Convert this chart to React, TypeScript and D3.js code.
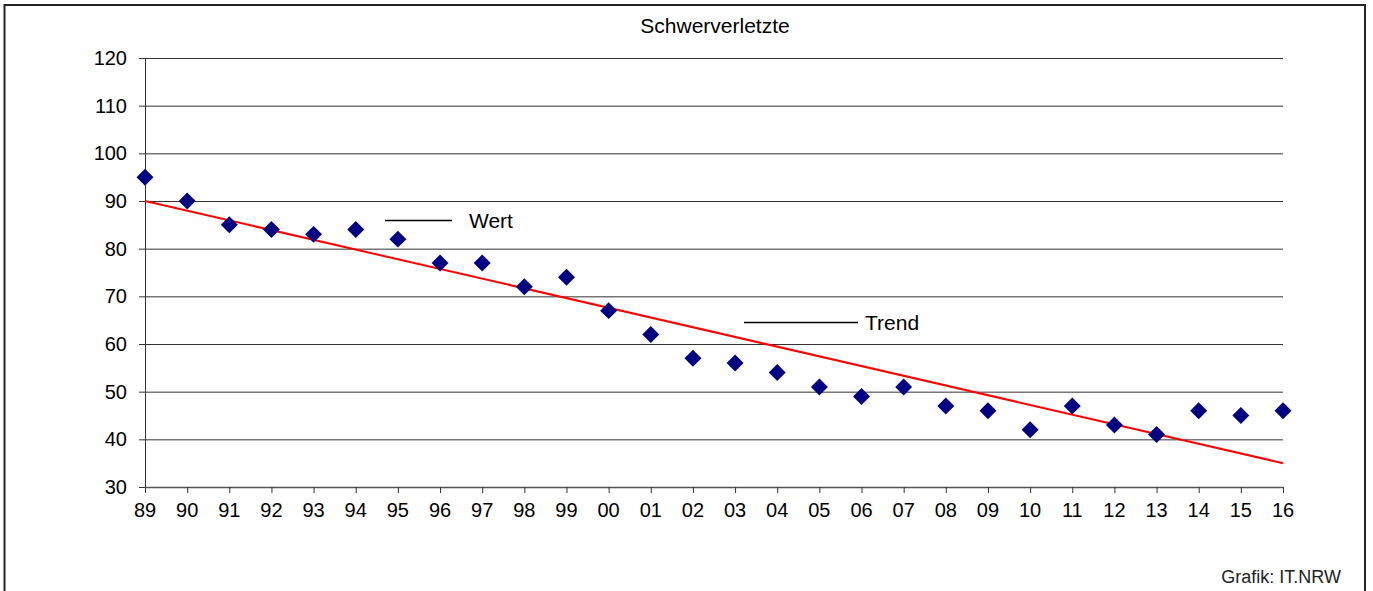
import React from "react";
import * as d3 from "d3";

const years = ["89","90","91","92","93","94","95","96","97","98","99","00","01","02","03","04","05","06","07","08","09","10","11","12","13","14","15","16"];
const values = [95,90,85,84,83,84,82,77,77,72,74,67,62,57,56,54,51,49,51,47,46,42,47,43,41,46,45,46];
const trendEnds = [90, 35];
const yTicks = [30,40,50,60,70,80,90,100,110,120];
const title = "Schwerverletzte";
const source = "Grafik: IT.NRW";

const W = 1373, H = 591;
const left = 145, right = 1283, top = 58, bottom = 487;
const font = "'Liberation Sans', Arial, sans-serif";

export default function App() {
  const x = d3.scalePoint<string>().domain(years).range([left, right]);
  const y = d3.scaleLinear().domain([30, 120]).range([bottom, top]);
  const sq = d3.symbol().type(d3.symbolSquare).size(144)();
  const trend = d3.line<[string, number]>().x(d => x(d[0])!).y(d => y(d[1]))([
    [years[0], trendEnds[0]],
    [years[years.length - 1], trendEnds[1]],
  ]);
  return (
    <svg width={W} height={H} style={{ position: "absolute", left: 0, top: 0, background: "#fff" }} fontFamily={font}>
      <rect x={4.5} y={5} width={1360.5} height={600} fill="none" stroke="#222" strokeWidth={2} />
      <text x={715} y={33} fontSize={21} textAnchor="middle" fill="#000">{title}</text>
      {yTicks.map(t => (
        <g key={t}>
          {t > 30 && <line x1={left} x2={right} y1={y(t) + 0.5} y2={y(t) + 0.5} stroke="#333" strokeWidth={1} />}
          <line x1={139} x2={left} y1={y(t) + 0.5} y2={y(t) + 0.5} stroke="#333" strokeWidth={1} />
          <text x={127} y={y(t) + 7} fontSize={20} textAnchor="end" fill="#000">{t}</text>
        </g>
      ))}
      <line x1={left + 0.5} x2={left + 0.5} y1={top} y2={bottom} stroke="#333" strokeWidth={1} />
      <line x1={left} x2={right} y1={bottom + 0.5} y2={bottom + 0.5} stroke="#555" strokeWidth={1.5} />
      {years.map(yr => (
        <g key={yr}>
          <line x1={x(yr)! + 0.5} x2={x(yr)! + 0.5} y1={bottom} y2={bottom + 6} stroke="#333" strokeWidth={1} />
          <text x={x(yr)!} y={517} fontSize={20} textAnchor="middle" fill="#000">{yr}</text>
        </g>
      ))}
      <path d={trend ?? ""} stroke="#ff0000" strokeWidth={2} fill="none" />
      {values.map((v, i) => (
        <path key={i} d={sq ?? ""} transform={`translate(${x(years[i])},${y(v)}) rotate(45)`} fill="#000080" />
      ))}
      <line x1={385} x2={452} y1={220.5} y2={220.5} stroke="#000" strokeWidth={1.5} />
      <text x={469} y={228} fontSize={21} fill="#000">Wert</text>
      <line x1={744} x2={858} y1={322.5} y2={322.5} stroke="#000" strokeWidth={1.5} />
      <text x={865} y={330} fontSize={21} fill="#000">Trend</text>
      <text x={1341} y={583} fontSize={18} textAnchor="end" fill="#222">{source}</text>
    </svg>
  );
}
